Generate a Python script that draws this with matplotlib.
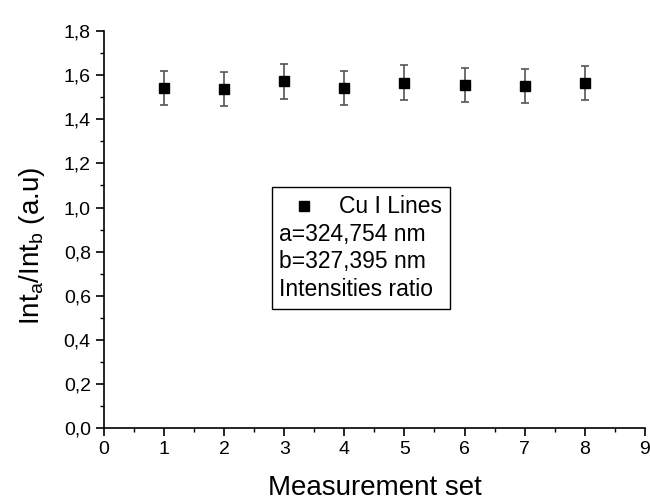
import numpy as np
import matplotlib
matplotlib.use('Agg')
import matplotlib.pyplot as plt
from matplotlib.ticker import MultipleLocator, FuncFormatter
from matplotlib.offsetbox import AnchoredOffsetbox, VPacker, HPacker, TextArea, DrawingArea
from matplotlib.lines import Line2D

plt.rcParams['font.family'] = ['Liberation Sans', 'DejaVu Sans']

# data
measurement = [1, 2, 3, 4, 5, 6, 7, 8]
ratio = [1.543, 1.537, 1.572, 1.544, 1.567, 1.556, 1.552, 1.565]
ratio_err = [0.077, 0.076, 0.078, 0.077, 0.078, 0.078, 0.077, 0.078]

legend_label = 'Cu I Lines'
legend_notes = ['a=324,754 nm', 'b=327,395 nm', 'Intensities ratio']

fig = plt.figure(figsize=(6.5, 5.04), dpi=100)
ax = fig.add_axes([0.16, 0.151, 0.832, 0.787])

ax.errorbar(measurement, ratio, yerr=ratio_err, fmt='s', color='black',
            markersize=7, ecolor='#555555', elinewidth=1.2, capsize=3,
            capthick=1.2)

ax.set_xlim(0, 9)
ax.set_ylim(0, 1.8)
ax.xaxis.set_major_locator(MultipleLocator(1))
ax.xaxis.set_minor_locator(MultipleLocator(0.5))
ax.yaxis.set_major_locator(MultipleLocator(0.2))
ax.yaxis.set_minor_locator(MultipleLocator(0.1))
ax.yaxis.set_major_formatter(FuncFormatter(lambda v, p: ('%.1f' % v).replace('.', ',')))

for s in ['top', 'right']:
    ax.spines[s].set_visible(False)
for s in ['left', 'bottom']:
    ax.spines[s].set_linewidth(1.2)

ax.tick_params(which='major', direction='out', length=6, width=1.2, labelsize=14)
ax.tick_params(which='minor', direction='out', length=3, width=1.0)

ax.set_xlabel('Measurement set', fontsize=20, labelpad=12)
ax.set_ylabel(r'Int$_\mathregular{a}$/Int$_\mathregular{b}$ (a.u)', fontsize=20)
ax.yaxis.set_label_coords(-0.105, 0.46)

# legend box: marker entry plus note lines
da = DrawingArea(36, 14, 0, 0)
da.add_artist(Line2D([18], [7], marker='s', color='black', markersize=7, linestyle='none'))
first = HPacker(children=[da, TextArea(legend_label, textprops=dict(fontsize=16.5))],
                align='center', pad=0, sep=7)
rows = [first] + [TextArea(t, textprops=dict(fontsize=16.5)) for t in legend_notes]
box = VPacker(children=rows, align='left', pad=0, sep=3.5)
anchored = AnchoredOffsetbox(loc='upper left', child=box, pad=0.55, borderpad=0,
                             frameon=True, bbox_to_anchor=(0.31, 0.607),
                             bbox_transform=ax.transAxes)
anchored.patch.set_edgecolor('black')
anchored.patch.set_linewidth(1.0)
ax.add_artist(anchored)

fig.savefig('out.png', dpi=100)
